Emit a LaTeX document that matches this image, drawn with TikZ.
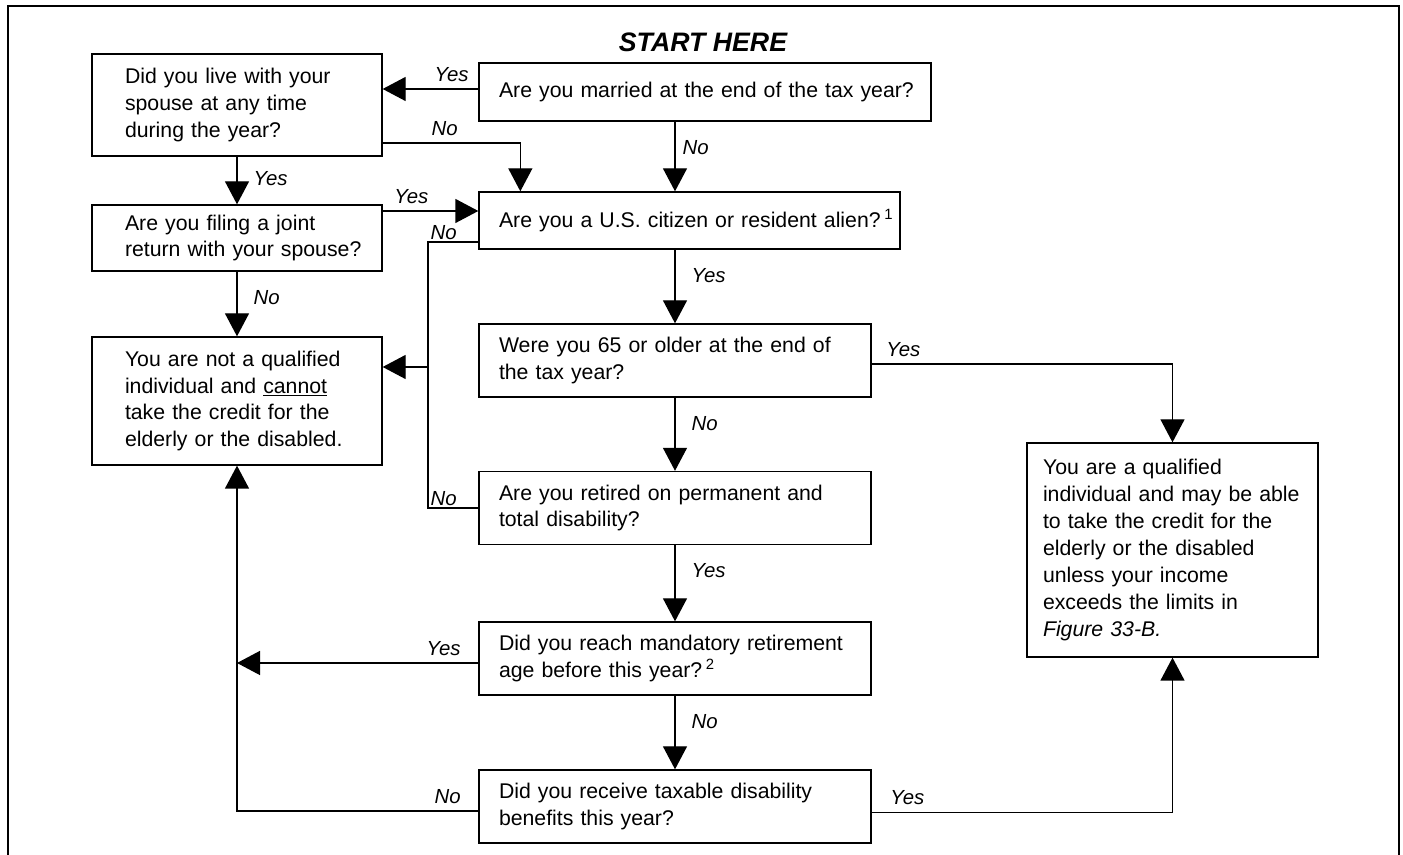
\documentclass[tikz,border=0pt]{standalone}
\usepackage{fontspec}
\setmainfont{Liberation Sans}
\usetikzlibrary{arrows.meta, positioning}
\hfuzz=30pt

\newcommand{\bodyfont}{\fontsize{12.1}{15.3}\selectfont}
\newcommand{\lblfont}{\fontsize{11.6}{14}\selectfont\itshape}

\tikzset{
  box/.style={draw=black, line width=0.75pt, align=left, inner ysep=0pt, font=\bodyfont,
    execute at begin node={\rightskip=0pt plus 1fil minus 3cm\relax\hyphenpenalty=10000\relax}},
  sidebox/.style={box, inner xsep=0.66cm, text width=4.48cm, minimum width=5.8cm},
  qbox/.style={box, inner xsep=0.4cm, text width=7.04cm, minimum height=1.46cm},
  lbl/.style={font=\lblfont, inner sep=0.14cm},
  link/.style={line width=0.75pt},
  flow/.style={link, -{Triangle[length=0.46cm, width=0.48cm]}}
}

\begin{document}
\begin{tikzpicture}
\useasboundingbox (0,0) rectangle (28.06,17.1);
\draw[line width=1pt] (0.16,0) -- (0.16,16.98) -- (27.98,16.98) -- (27.98,0);

\node[font=\fontsize{15.2}{18}\selectfont\bfseries\itshape] (start) at (14.06,16.26) {START HERE};

\node[box, inner xsep=0.4cm, text width=8.24cm, minimum height=1.16cm] (married) at (14.1,15.26) {Are you married at the end of the tax year?};
\node[sidebox, minimum height=2.04cm] (livewith) at (4.74,15.0) {Did you live with your\\spouse at any time\\during the year?};
\node[sidebox, minimum height=1.32cm] (joint) at (4.74,12.34) {Are you filing a joint\\return with your spouse?};
\node[box, inner xsep=0.4cm, text width=7.62cm, minimum height=1.14cm] (citizen) at (13.79,12.69) {Are you a U.S. citizen or resident alien?\,\textsuperscript{1}};
\node[sidebox, minimum height=2.56cm] (notqual) at (4.74,9.08) {You are not a qualified\\individual and \underline{cannot}\\take the credit for the\\elderly or the disabled.};
\node[qbox] (over65) at (13.5,9.89) {Were you 65 or older at the end of\\the tax year?};
\node[qbox] (retired) at (13.5,6.94) {Are you retired on permanent and\\total disability?};
\node[qbox] (mandatory) at (13.5,3.93) {Did you reach mandatory retirement\\age before this year?\,\textsuperscript{2}};
\node[qbox] (taxable) at (13.5,0.97) {Did you receive taxable disability\\benefits this year?};
\node[box, inner xsep=0.32cm, text width=5.18cm, minimum height=4.28cm] (qual) at (23.45,6.1) {You are a qualified\\individual and may be able\\to take the credit for the\\elderly or the disabled\\unless your income\\exceeds the limits in\\\textit{Figure 33-B.}};

\coordinate (jn) at (8.56,9.76);

% married / spouse questions
\draw[flow] ([yshift=0.06cm]married.west) -- node[lbl, pos=0, anchor=south east, xshift=-0.04cm] {Yes} ([yshift=0.06cm]married.west -| livewith.east);
\draw[flow] ([yshift=-0.76cm]livewith.east) -| node[lbl, pos=0.3, anchor=south east] {No} ([xshift=0.84cm]citizen.north west);
\draw[flow] (married.south -| over65.north) -- node[lbl, pos=0.37, anchor=west] {No} (citizen.north -| over65.north);
\draw[flow] (livewith.south) -- node[lbl, pos=0.47, anchor=west, xshift=0.18cm] {Yes} (joint.north);
\draw[flow] ([yshift=0.54cm]joint.east) -- node[lbl, pos=0.3, anchor=south] {Yes} ([yshift=0.54cm]joint.east -| citizen.west);
\draw[flow] (joint.south) -- node[lbl, pos=0.4, anchor=west, xshift=0.18cm] {No} (notqual.north);

% not qualified branch
\draw[link] ([yshift=-0.43cm]citizen.west) -| node[lbl, pos=0.5, anchor=south west, inner sep=0.04cm] {No} (jn);
\draw[link] (retired.west) -| node[lbl, pos=0.5, anchor=south west, inner sep=0.04cm] {No} (jn);
\draw[flow] (jn) -- (jn -| notqual.east);

% main column
\draw[flow] (citizen.south -| over65.north) -- node[lbl, pos=0.35, anchor=west, xshift=0.18cm] {Yes} (over65.north);
\draw[flow] (over65.south) -- node[lbl, pos=0.35, anchor=west, xshift=0.18cm] {No} (retired.north);
\draw[flow] (retired.south) -- node[lbl, pos=0.33, anchor=west, xshift=0.18cm] {Yes} (mandatory.north);
\draw[flow] (mandatory.south) -- node[lbl, pos=0.35, anchor=west, xshift=0.18cm] {No} (taxable.north);

% to the results
\draw[flow] ([yshift=-0.07cm]over65.east) -| node[lbl, pos=0, anchor=south west, xshift=0.14cm] {Yes} (qual.north);
\draw[flow] ([yshift=-0.09cm]mandatory.west) -- node[lbl, pos=0, anchor=south east, xshift=-0.2cm] {Yes} ([yshift=-0.09cm]mandatory.west -| notqual.south);
\draw[flow] ([yshift=-0.09cm]taxable.west) -| node[lbl, pos=0, anchor=south east, xshift=-0.2cm] {No} (notqual.south);
\draw[flow] ([yshift=-0.12cm]taxable.east) -| node[lbl, pos=0, anchor=south west, xshift=0.22cm] {Yes} (qual.south);

\end{tikzpicture}
\end{document}
